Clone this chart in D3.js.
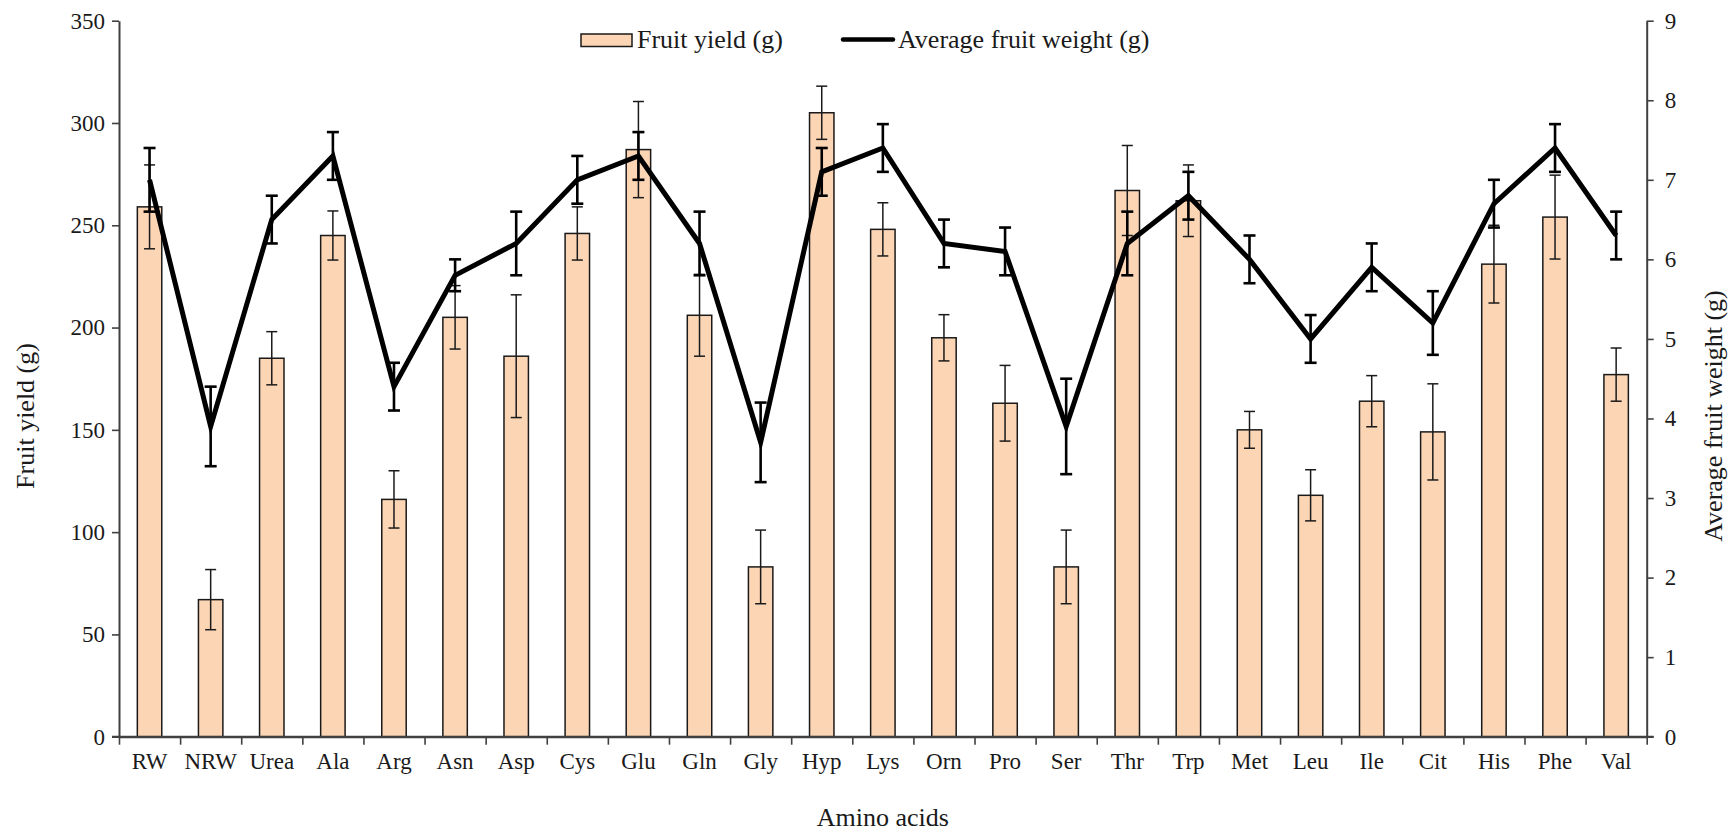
<!DOCTYPE html>
<html>
<head>
<meta charset="utf-8">
<script src="https://cdn.jsdelivr.net/npm/d3@7"></script>
<style>
  html, body { margin: 0; padding: 0; background: #fff; }
  svg { display: block; }
  text { font-family: "Liberation Serif", "Times New Roman", serif; fill: #1a1a1a; }
</style>
</head>
<body>
<svg id="chart" width="1729" height="833"></svg>
<script>
const categories = ["RW","NRW","Urea","Ala","Arg","Asn","Asp","Cys","Glu","Gln","Gly","Hyp","Lys","Orn","Pro","Ser","Thr","Trp","Met","Leu","Ile","Cit","His","Phe","Val"];
const fruitYield = [259, 67, 185, 245, 116, 205, 186, 246, 287, 206, 83, 305, 248, 195, 163, 83, 267, 262, 150, 118, 164, 149, 231, 254, 177];
const fruitYieldErr = [20.5, 14.7, 13, 12, 14, 15.5, 30, 13, 23.5, 20, 18, 13, 13, 11.3, 18.5, 18, 22, 17.5, 9, 12.5, 12.5, 23.5, 19, 20.5, 13];
const avgWeight = [7.0, 3.9, 6.5, 7.3, 4.4, 5.8, 6.2, 7.0, 7.3, 6.2, 3.7, 7.1, 7.4, 6.2, 6.1, 3.9, 6.2, 6.8, 6.0, 5.0, 5.9, 5.2, 6.7, 7.4, 6.3];
const avgWeightErr = [0.4, 0.5, 0.3, 0.3, 0.3, 0.2, 0.4, 0.3, 0.3, 0.4, 0.5, 0.3, 0.3, 0.3, 0.3, 0.6, 0.4, 0.3, 0.3, 0.3, 0.3, 0.4, 0.3, 0.3, 0.3];
const leftTicks = [0, 50, 100, 150, 200, 250, 300, 350];
const rightTicks = [0, 1, 2, 3, 4, 5, 6, 7, 8, 9];
const seriesNames = ["Fruit yield (g)", "Average fruit weight (g)"];
const xTitle = "Amino acids";
const yLeftTitle = "Fruit yield (g)";
const yRightTitle = "Average fruit weight (g)";

const svg = d3.select("#chart");
const X0 = 119, X1 = 1646.7, Y0 = 736.7, Y1 = 20.7;
const axisColor = "#404040";

const x = d3.scaleBand().domain(categories).range([X0, X1]).paddingInner(0).paddingOuter(0);
const xEdge = d3.scaleLinear().domain([0, categories.length]).range([X0, X1]);
const yL = d3.scaleLinear().domain([0, 350]).range([Y0, Y1]);
const yR = d3.scaleLinear().domain([0, 9]).range([Y0, Y1]);

const bw = x.bandwidth() * 0.4;
const cx = d => x(d) + x.bandwidth() / 2;

// bars
svg.append("g").selectAll("rect").data(categories).join("rect")
  .attr("x", d => cx(d) - bw / 2)
  .attr("width", bw)
  .attr("y", (d, i) => yL(fruitYield[i]))
  .attr("height", (d, i) => yL(0) - yL(fruitYield[i]))
  .attr("fill", "#FCD5B5")
  .attr("stroke", "#1a1a1a")
  .attr("stroke-width", 1.5);

// bar error bars
const be = svg.append("g").attr("stroke", "#1a1a1a").attr("stroke-width", 1.5).attr("fill", "none");
categories.forEach((c, i) => {
  const xc = cx(c), hi = yL(fruitYield[i] + fruitYieldErr[i]), lo = yL(fruitYield[i] - fruitYieldErr[i]);
  be.append("line").attr("x1", xc).attr("x2", xc).attr("y1", hi).attr("y2", lo);
  be.append("line").attr("x1", xc - 5.5).attr("x2", xc + 5.5).attr("y1", hi).attr("y2", hi);
  be.append("line").attr("x1", xc - 5.5).attr("x2", xc + 5.5).attr("y1", lo).attr("y2", lo);
});

// axes
const gL = svg.append("g").attr("transform", `translate(${X0},0)`)
  .call(d3.axisLeft(yL).tickValues(leftTicks).tickSize(7).tickSizeOuter(0).tickPadding(7));
const gR = svg.append("g").attr("transform", `translate(${X1},0)`)
  .call(d3.axisRight(yR).tickValues(rightTicks).tickSize(7).tickSizeOuter(0).tickPadding(11));
const gXt = svg.append("g").attr("transform", `translate(0,${Y0})`)
  .call(d3.axisBottom(xEdge).tickValues(d3.range(0, categories.length + 1)).tickFormat("").tickSize(8).tickSizeOuter(0));
const gX = svg.append("g").attr("transform", `translate(0,${Y0})`)
  .call(d3.axisBottom(x).tickSize(0).tickPadding(16));
gX.select(".domain").remove();

[gL, gR, gXt].forEach(g => {
  g.selectAll(".domain").attr("stroke", axisColor).attr("stroke-width", 2);
  g.selectAll(".tick line").attr("stroke", axisColor).attr("stroke-width", 1.6);
});
// extend x-axis line to the outer ticks of y axes
svg.append("line").attr("x1", X0 - 7).attr("x2", X1 + 7).attr("y1", Y0).attr("y2", Y0)
  .attr("stroke", axisColor).attr("stroke-width", 2);
[gL, gR, gX].forEach(g => {
  g.selectAll(".tick text").attr("font-size", 23).attr("fill", "#1a1a1a")
    .style("font-family", "'Liberation Serif', 'Times New Roman', serif");
});

// line
const line = d3.line().x((d, i) => cx(categories[i])).y(d => yR(d));
svg.append("path").datum(avgWeight).attr("d", line)
  .attr("fill", "none").attr("stroke", "#000").attr("stroke-width", 5).attr("stroke-linejoin", "miter");

// line error bars
const le = svg.append("g").attr("stroke", "#000").attr("stroke-width", 2.6).attr("fill", "none");
categories.forEach((c, i) => {
  const xc = cx(c), hi = yR(avgWeight[i] + avgWeightErr[i]), lo = yR(avgWeight[i] - avgWeightErr[i]);
  le.append("line").attr("x1", xc).attr("x2", xc).attr("y1", hi).attr("y2", lo);
  le.append("line").attr("x1", xc - 6).attr("x2", xc + 6).attr("y1", hi).attr("y2", hi);
  le.append("line").attr("x1", xc - 6).attr("x2", xc + 6).attr("y1", lo).attr("y2", lo);
});

// titles
svg.append("text").attr("x", (X0 + X1) / 2).attr("y", 826).attr("text-anchor", "middle")
  .attr("font-size", 26).text(xTitle);
svg.append("text").attr("transform", "translate(34,416) rotate(-90)").attr("text-anchor", "middle")
  .attr("font-size", 26).text(yLeftTitle);
svg.append("text").attr("transform", "translate(1722,416) rotate(-90)").attr("text-anchor", "middle")
  .attr("font-size", 26).text(yRightTitle);

// legend
const lg = svg.append("g");
lg.append("rect").attr("x", 581).attr("y", 34).attr("width", 51).attr("height", 12.5)
  .attr("fill", "#FCD5B5").attr("stroke", "#1a1a1a").attr("stroke-width", 1.5);
lg.append("text").attr("x", 637).attr("y", 48).attr("font-size", 26).text(seriesNames[0]);
lg.append("line").attr("x1", 843).attr("x2", 893).attr("y1", 39.5).attr("y2", 39.5)
  .attr("stroke", "#000").attr("stroke-width", 4.5).attr("stroke-linecap", "round");
lg.append("text").attr("x", 898).attr("y", 48).attr("font-size", 26).text(seriesNames[1]);
</script>
</body>
</html>
